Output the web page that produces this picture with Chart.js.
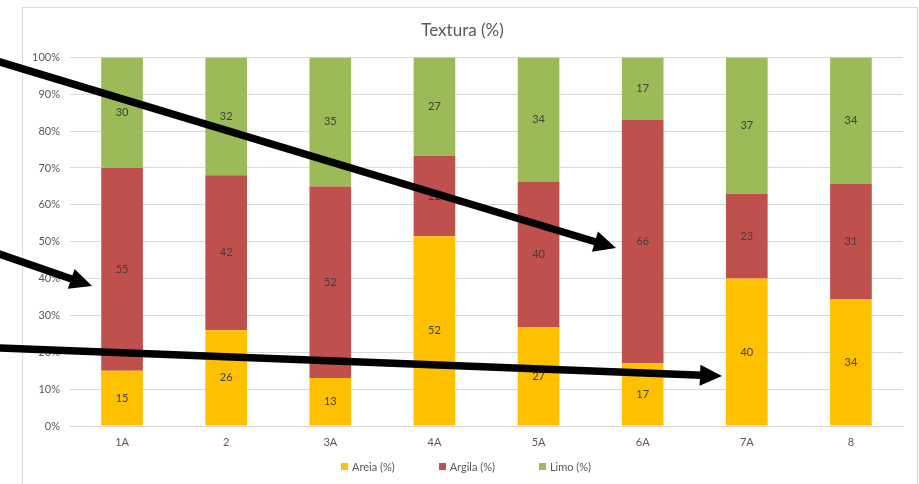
<!DOCTYPE html>
<html>
<head>
<meta charset="utf-8">
<script src="https://cdn.jsdelivr.net/npm/chart.js@4/dist/chart.umd.min.js"></script>
<style>
  html, body { margin: 0; padding: 0; background: #fff; overflow: hidden; }
  #wrap { position: relative; width: 919px; height: 484px; }
</style>
</head>
<body>
<div id="wrap"><canvas id="c" width="919" height="484"></canvas></div>
<script>
// Soil texture by sample (values in %)
const categories = ['1A', '2', '3A', '4A', '5A', '6A', '7A', '8'];
const areia  = [15, 26, 13, 52, 27, 17, 40, 34];
const argila = [55, 42, 52, 22, 40, 66, 23, 31];
const limo   = [30, 32, 35, 27, 34, 17, 37, 34];
const yTickLabels = ['0%', '10%', '20%', '30%', '40%', '50%', '60%', '70%', '80%', '90%', '100%'];

// Each column is shown as a share of its own total (100% stacked)
const totals = categories.map((_, i) => areia[i] + argila[i] + limo[i]);
const share = arr => arr.map((v, i) => v / totals[i] * 100);

const FONT = 'Lato, "Open Sans", sans-serif';

// Callout arrows laid over the chart (canvas pixels)
const arrows = [
  { from: [-5, 60.5], to: [616, 248] },
  { from: [-5, 252.5], to: [92, 286] },
  { from: [-5, 347.8], to: [722, 376] }
];

const frame = {
  id: 'frame',
  beforeDraw(chart) {
    const ctx = chart.ctx;
    ctx.save();
    ctx.strokeStyle = '#d9d9d9';
    ctx.lineWidth = 1;
    ctx.strokeRect(22.5, 7.5, 895, 520);
    ctx.restore();
  }
};

const valueLabels = {
  id: 'valueLabels',
  afterDatasetsDraw(chart) {
    const ctx = chart.ctx;
    ctx.save();
    ctx.font = '11px ' + FONT;
    ctx.fillStyle = '#404040';
    ctx.textAlign = 'center';
    ctx.textBaseline = 'middle';
    chart.data.datasets.forEach((ds, di) => {
      const meta = chart.getDatasetMeta(di);
      meta.data.forEach((bar, i) => {
        const y = (bar.y + bar.base) / 2;
        ctx.fillText(String(ds.raw[i]), bar.x, y);
      });
    });
    ctx.restore();
  }
};

// Legend row under the axis: small square swatch + series name
const legendRow = {
  id: 'legendRow',
  afterDraw(chart) {
    const ctx = chart.ctx;
    const box = 7, textGap = 4, itemGap = 44, y = 467, center = 466;
    ctx.save();
    ctx.font = '11px ' + FONT;
    ctx.textBaseline = 'middle';
    ctx.textAlign = 'left';
    const items = chart.data.datasets.map(ds => ({
      text: ds.label, color: ds.backgroundColor,
      w: box + textGap + ctx.measureText(ds.label).width
    }));
    const total = items.reduce((s, it) => s + it.w, 0) + itemGap * (items.length - 1);
    let x = center - total / 2;
    items.forEach(it => {
      ctx.fillStyle = it.color;
      ctx.fillRect(Math.round(x), y - 4, box, box);
      ctx.fillStyle = '#595959';
      ctx.fillText(it.text, x + box + textGap, y);
      x += it.w + itemGap;
    });
    ctx.restore();
  }
};

const callouts = {
  id: 'callouts',
  afterDraw(chart) {
    const ctx = chart.ctx;
    ctx.save();
    ctx.fillStyle = '#000';
    ctx.strokeStyle = '#000';
    ctx.lineWidth = 7.5;
    arrows.forEach(a => {
      const [x0, y0] = a.from, [x1, y1] = a.to;
      const ang = Math.atan2(y1 - y0, x1 - x0);
      const headLen = 22, headHalf = 10.5;
      const bx = x1 - headLen * Math.cos(ang), by = y1 - headLen * Math.sin(ang);
      ctx.beginPath();
      ctx.moveTo(x0, y0);
      ctx.lineTo(bx + 2 * Math.cos(ang), by + 2 * Math.sin(ang));
      ctx.stroke();
      ctx.beginPath();
      ctx.moveTo(x1, y1);
      ctx.lineTo(bx + headHalf * Math.sin(ang), by - headHalf * Math.cos(ang));
      ctx.lineTo(bx - headHalf * Math.sin(ang), by + headHalf * Math.cos(ang));
      ctx.closePath();
      ctx.fill();
    });
    ctx.restore();
  }
};

new Chart(document.getElementById('c'), {
  type: 'bar',
  data: {
    labels: categories,
    datasets: [
      { label: 'Areia (%)',  data: share(areia),  raw: areia,  backgroundColor: '#ffc000' },
      { label: 'Argila (%)', data: share(argila), raw: argila, backgroundColor: '#c0504d' },
      { label: 'Limo (%)',   data: share(limo),   raw: limo,   backgroundColor: '#9bbb59' }
    ]
  },
  options: {
    responsive: false,
    devicePixelRatio: 1,
    animation: false,
    categoryPercentage: 1.0,
    barPercentage: 0.4,
    layout: { padding: { left: 22, right: 16, top: 0, bottom: 24 } },
    plugins: {
      title: {
        display: true,
        text: 'Textura (%)',
        color: '#595959',
        font: { family: FONT, size: 17, weight: 'normal' },
        padding: { top: 20, bottom: 17 }
      },
      legend: { display: false },
      tooltip: { enabled: false }
    },
    scales: {
      x: {
        stacked: true,
        afterFit(scale) { scale.height = 34; },
        grid: { display: false, drawTicks: false },
        border: { display: true, color: '#d9d9d9' },
        ticks: { color: '#595959', font: { family: FONT, size: 11 }, padding: 10 }
      },
      y: {
        stacked: true,
        min: 0,
        max: 100,
        afterFit(scale) { scale.width = 48; },
        grid: { color: '#d9d9d9', drawTicks: false },
        border: { display: false },
        ticks: {
          stepSize: 10,
          color: '#595959',
          font: { family: FONT, size: 11 },
          padding: 10,
          callback: (v) => yTickLabels[Math.round(v / 10)]
        }
      }
    }
  },
  plugins: [frame, valueLabels, legendRow, callouts]
});
</script>
</body>
</html>
